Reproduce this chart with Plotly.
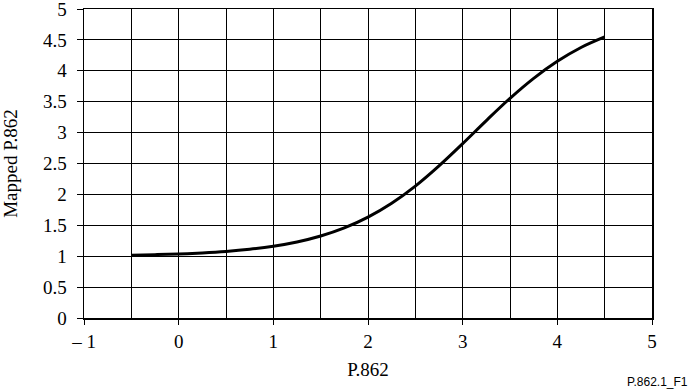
import plotly.graph_objects as go

# Data
x_vals = [-0.5, -0.25, 0, 0.25, 0.5, 0.75, 1, 1.25, 1.5, 1.75, 2, 2.25, 2.5, 2.75, 3, 3.25, 3.5, 3.75, 4, 4.25, 4.5]
y_vals = [1.017, 1.025, 1.036, 1.053, 1.077, 1.112, 1.161, 1.230, 1.326, 1.457, 1.632, 1.857, 2.135, 2.462, 2.822, 3.195, 3.554, 3.878, 4.153, 4.377, 4.548]

x_ticks = [-1, 0, 1, 2, 3, 4, 5]
x_tick_labels = ["\u2013 1", "0", "1", "2", "3", "4", "5"]
y_ticks = [0, 0.5, 1, 1.5, 2, 2.5, 3, 3.5, 4, 4.5, 5]
y_tick_labels = ["0", "0.5", "1", "1.5", "2", "2.5", "3", "3.5", "4", "4.5", "5"]

font_serif = "'Liberation Serif', 'Times New Roman', Times, serif"

fig = go.Figure()
fig.add_trace(go.Scatter(x=x_vals, y=y_vals, mode="lines",
                         line=dict(color="black", width=3, shape="spline"),
                         showlegend=False, hoverinfo="skip"))

fig.update_layout(
    width=694, height=392,
    margin=dict(l=84, r=42, t=9, b=74, autoexpand=False),
    paper_bgcolor="white", plot_bgcolor="white",
    font=dict(family=font_serif, size=19, color="black"),
    hovermode=False,
    xaxis=dict(
        range=[-1, 5], tickvals=x_ticks, ticktext=x_tick_labels,
        showgrid=True, gridcolor="black", gridwidth=1,
        minor=dict(dtick=0.5, tick0=0, showgrid=True, gridcolor="black", gridwidth=1, ticks=""),
        ticks="outside", ticklen=5, tickcolor="black", tickwidth=1,
        showline=True, linecolor="black", linewidth=1.5, mirror=True,
        zeroline=False, ticklabelstandoff=1, automargin=False,
        ticklabeloverflow="allow",
        title=dict(text="P.862", font=dict(family=font_serif, size=19), standoff=11),
    ),
    yaxis=dict(
        range=[0, 5], tickvals=y_ticks, ticktext=y_tick_labels,
        showgrid=True, gridcolor="black", gridwidth=1,
        ticks="outside", ticklen=6, tickcolor="black", tickwidth=1,
        showline=True, linecolor="black", linewidth=1.5, mirror=True,
        zeroline=False, ticklabelstandoff=6, automargin=False,
        ticklabeloverflow="allow",
        title=dict(text="Mapped P.862", font=dict(family=font_serif, size=19), standoff=24),
    ),
)

fig.add_annotation(text="P.862.1_F1", xref="paper", yref="paper",
                   x=1.067, y=-0.178, xanchor="right", yanchor="top", showarrow=False,
                   font=dict(family="'Liberation Sans', Arial, sans-serif", size=12, color="black"))

fig.write_html("out.html", config={"displayModeBar": False, "staticPlot": True},
               post_script="document.body.style.margin='0';document.body.style.padding='0';")
